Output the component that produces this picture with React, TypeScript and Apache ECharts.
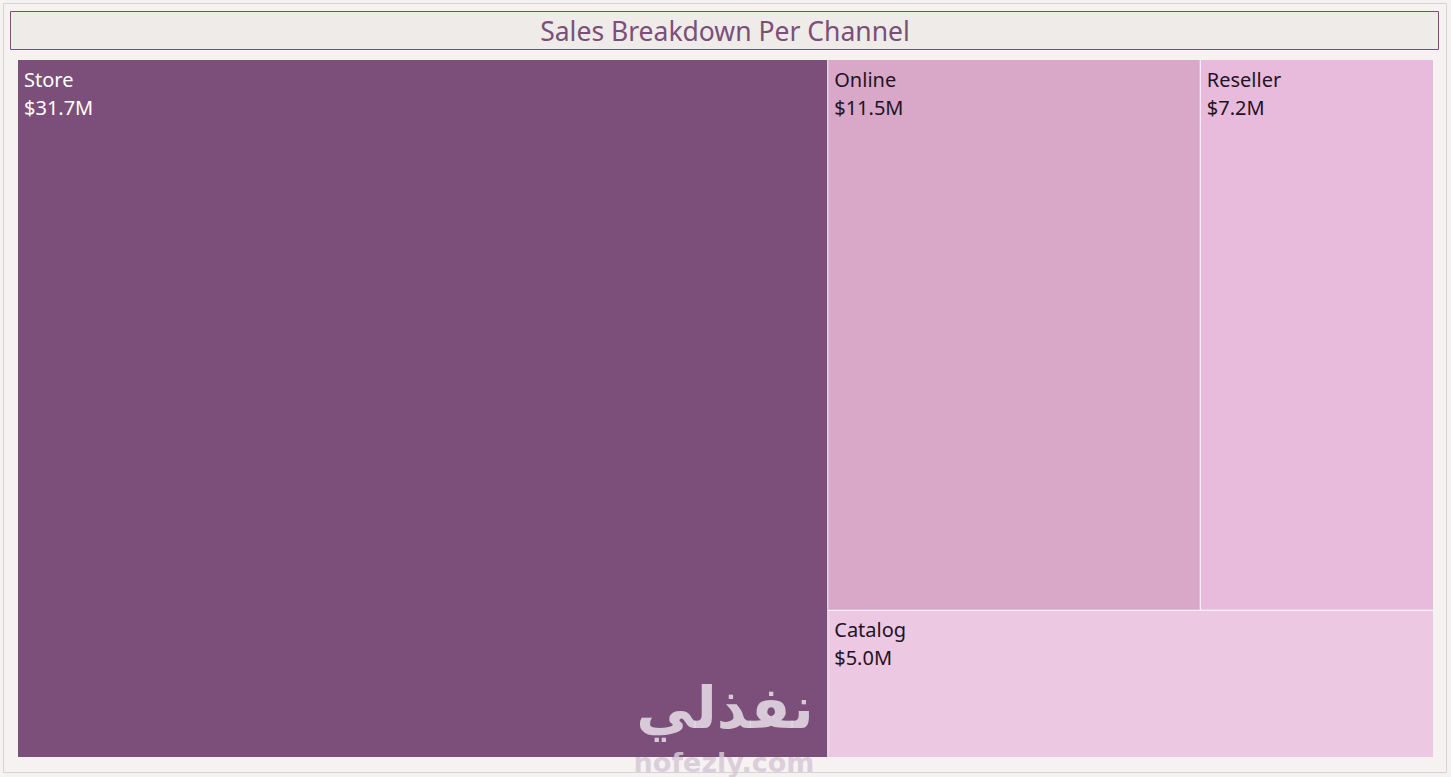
import React, { useEffect, useRef } from "react";
import * as echarts from "echarts";

const channels = ["Store", "Online", "Reseller", "Catalog"];
const sales = [31.7, 11.5, 7.2, 5.0]; // $M
const colors = ["#7b4f79", "#d9a7c7", "#e8bbdc", "#ecc8e3"];
const labelColors = ["#ffffff", "#1f141f", "#1f141f", "#1f141f"];
const title = "Sales Breakdown Per Channel";

export default function App() {
  const ref = useRef<HTMLDivElement>(null);
  useEffect(() => {
    document.body.style.margin = "0";
    const chart = echarts.init(ref.current!, null, { renderer: "svg" });
    const font = "'Noto Sans', 'Open Sans', sans-serif";
    chart.setOption({
      animation: false,
      backgroundColor: "#f5f2f1",
      graphic: [
        {
          type: "rect",
          shape: { x: 3.5, y: 3.5, width: 1443, height: 769 },
          style: { fill: "none", stroke: "#d6d3d3", lineWidth: 1 },
          z: 0,
        },
        {
          type: "rect",
          shape: { x: 10.5, y: 11.5, width: 1428, height: 38 },
          style: { fill: "#efebe8", stroke: "#7b4f79", lineWidth: 1 },
          z: 0,
        },
        {
          type: "text",
          x: 725,
          y: 31,
          style: {
            text: title,
            fill: "#7b4f79",
            font: `26.5px ${font}`,
            align: "center",
            verticalAlign: "middle",
          },
          z: 1,
        },
        {
          type: "text",
          x: 725,
          y: 708,
          style: {
            text: "نفذلي",
            fill: "rgba(232,222,232,0.85)",
            font: `bold 58px 'DejaVu Sans', sans-serif`,
            align: "center",
            verticalAlign: "middle",
          },
          z: 100,
        },
        {
          type: "text",
          x: 724,
          y: 762,
          style: {
            text: "nofezly.com",
            fill: "rgba(215,200,215,0.85)",
            font: `bold 27px 'DejaVu Sans', sans-serif`,
            align: "center",
            verticalAlign: "middle",
          },
          z: 100,
        },
      ],
      series: [
        {
          type: "treemap",
          left: 18,
          top: 60,
          width: 1415,
          height: 697,
          roam: false,
          nodeClick: false,
          breadcrumb: { show: false },
          sort: "desc",
          levels: [
            { itemStyle: { borderColor: "#ffffff", borderWidth: 0, gapWidth: 1 } },
          ],
          itemStyle: { borderColor: "#ffffff", borderWidth: 0, gapWidth: 0 },
          label: {
            show: true,
            position: "insideTopLeft",
            fontFamily: font,
            fontSize: 20,
            lineHeight: 28,
            padding: [5, 4, 0, 6],
            formatter: (p: any) => `${p.name}\n$${p.value.toFixed(1)}M`,
          },
          data: channels.map((name, i) => ({
            name,
            value: sales[i],
            itemStyle: { color: colors[i] },
            label: { color: labelColors[i] },
          })),
        },
      ],
    });
    return () => chart.dispose();
  }, []);
  return (
    <div
      ref={ref}
      style={{ position: "absolute", left: 0, top: 0, width: 1451, height: 777 }}
    />
  );
}
